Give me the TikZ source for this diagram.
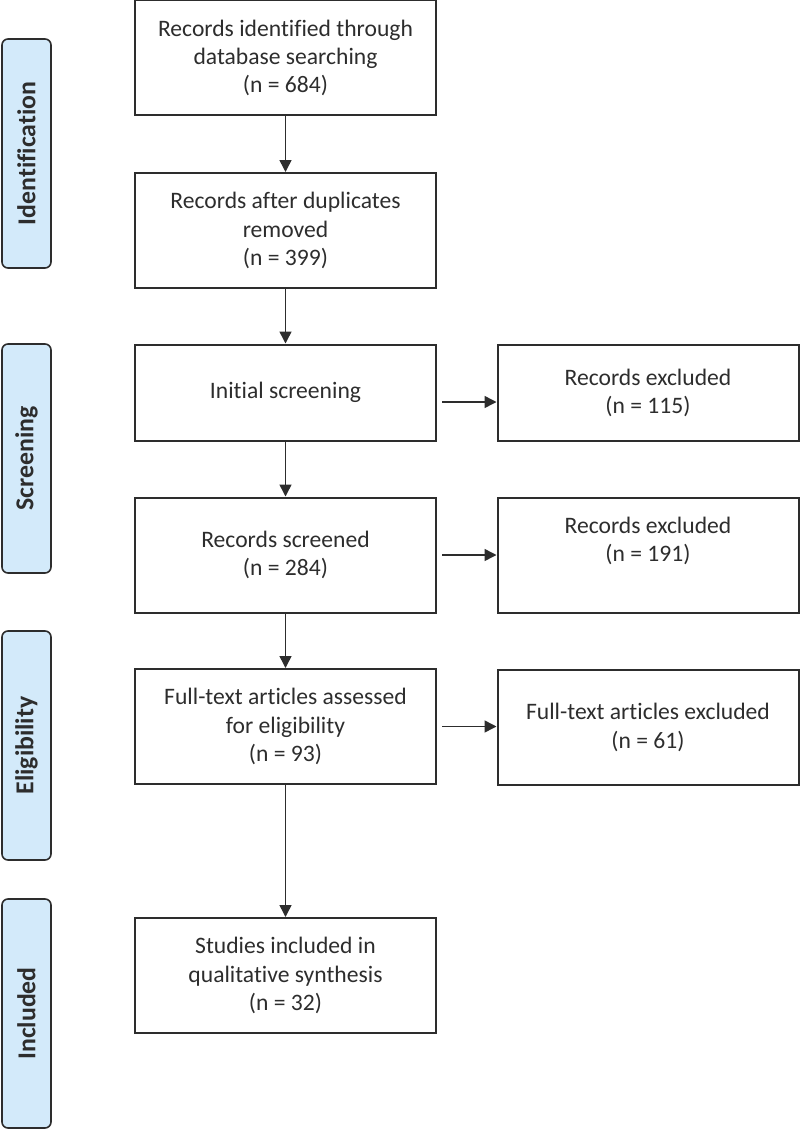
\documentclass[tikz,border=0pt]{standalone}
\usepackage{fontspec}
\setmainfont{Carlito}[Ligatures=NoCommon]
\usetikzlibrary{arrows.meta}
\definecolor{stageblue}{RGB}{211,234,250}
\definecolor{linegray}{RGB}{45,45,45}
\begin{document}
\begin{tikzpicture}[x=0.5pt, y=-0.5pt,
  flow/.style={color=linegray, line width=0.75pt, -{Triangle[length=6pt,width=6pt]}},
  stage/.style={draw=linegray, line width=0.8pt, fill=stageblue, rounded corners=3pt,
    rotate=90, minimum width=114.5pt, minimum height=24.5pt, inner sep=0pt,
    text=linegray, font=\fontsize{12.9}{15}\selectfont\bfseries}]
\useasboundingbox (0,0) rectangle (800,1129);

\begin{scope}[every node/.style={draw=linegray, line width=1pt, shape=rectangle, align=center,
    inner sep=0pt, minimum width=150.5pt, minimum height=57.5pt, text=linegray,
    font=\fontsize{11.8}{14.15}\selectfont}]
    \path (285.5,58) node (search) {Records identified through\\database searching\\(n = 684)};
    \path (search) +(0,172.5) node (dupl) {Records after duplicates\\removed\\(n = 399)};
    \path (dupl) +(0,162) node[minimum height=48pt] (initial) {Initial screening};
    \path (initial) +(0,162.5) node (screened) {Records screened\\(n = 284)};
    \path (screened) +(0,171.5) node (fulltext) {Full-text articles assessed\\for eligibility\\(n = 93)};
    \path (fulltext) +(0,249) node (included) {Studies included in\\qualitative synthesis\\(n = 32)};
    \path (initial) +(362.5,0.5) node[minimum height=48pt] (exclA) {Records excluded\\(n = 115)};
    \path (screened) +(362.5,0) node (exclB) {Records excluded\\(n = 191)\\\phantom{(n)}};
    \path (fulltext) +(362.5,1) node (exclC) {Full-text articles excluded\\(n = 61)};
\end{scope}

\path (26.5,153.5) node[stage] (identification) {Identification};
\path (identification) +(0,305) node[stage] (screening) {Screening};
\path (screening) +(0,287) node[stage] (eligibility) {Eligibility};
\path (eligibility) +(0,268) node[stage] (includedstage) {Included};


\draw[flow] (search) -- (dupl);
\draw[flow] (dupl) -- (initial);
\draw[flow] (initial) -- (screened);
\draw[flow] (screened) -- (fulltext);
\draw[flow] (fulltext) -- (included);


\draw[flow] ([xshift=2.5pt,yshift=-4.75pt]initial.east) -- ([yshift=-4.75pt]initial.east -| exclA.west);
\draw[flow] ([xshift=2.5pt]screened.east) -- (screened.east -| exclB.west);
\draw[flow] ([xshift=2.5pt]fulltext.east) -- (fulltext.east -| exclC.west);

\end{tikzpicture}
\end{document}
